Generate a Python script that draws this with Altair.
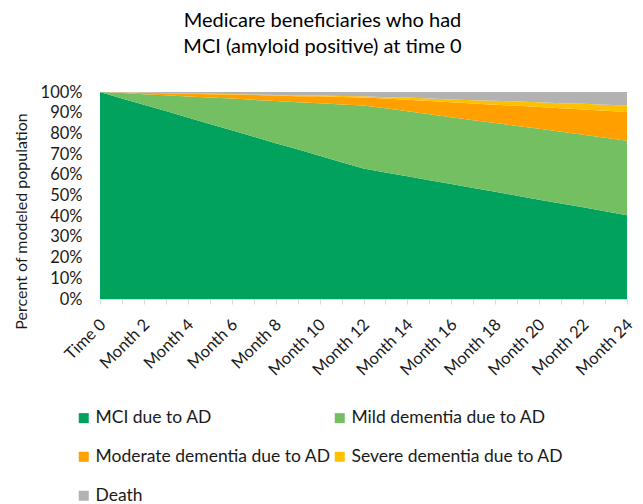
import altair as alt
import pandas as pd

months = list(range(25))
series = ["MCI due to AD", "Mild dementia due to AD", "Moderate dementia due to AD",
          "Severe dementia due to AD", "Death"]
colors = ["#00A25D", "#73BF62", "#FF9F00", "#FFC000", "#B2B2B2"]

mci = [100.0, 96.9, 93.8, 90.8, 87.7, 84.6, 81.5, 78.4, 75.3, 72.3, 69.2, 66.1, 63.0,
       61.1, 59.3, 57.4, 55.5, 53.6, 51.8, 49.9, 48.0, 46.1, 44.3, 42.4, 40.5]
mild = [0.0, 2.6, 5.1, 7.6, 10.1, 12.7, 15.3, 17.8, 20.4, 22.8, 25.4, 27.9, 30.5,
        31.0, 31.4, 31.9, 32.3, 32.8, 33.2, 33.7, 34.2, 34.7, 35.0, 35.5, 36.0]
moderate = [0.0, 0.3, 0.7, 1.0, 1.3, 1.6, 2.0, 2.3, 2.6, 2.9, 3.3, 3.6, 3.9,
            4.7, 5.6, 6.4, 7.2, 8.0, 8.9, 9.7, 10.5, 11.3, 12.2, 13.0, 13.8]
severe = [0.0, 0.0, 0.1, 0.1, 0.2, 0.2, 0.2, 0.3, 0.3, 0.4, 0.4, 0.5, 0.5,
          0.7, 1.0, 1.2, 1.4, 1.6, 1.9, 2.1, 2.3, 2.5, 2.8, 3.0, 3.2]
death = [0.0, 0.2, 0.3, 0.5, 0.7, 0.9, 1.0, 1.2, 1.4, 1.6, 1.7, 1.9, 2.1,
         2.5, 2.7, 3.1, 3.6, 4.0, 4.2, 4.6, 5.0, 5.4, 5.7, 6.1, 6.5]

values = [mci, mild, moderate, severe, death]
rows = []
for si, (name, vals) in enumerate(zip(series, values)):
    for m, v in zip(months, vals):
        rows.append({"month": m, "series": name, "value": v, "order": si})
df = pd.DataFrame(rows)

FONT = "Lato"
TXT = "#1a1a1a"

chart = alt.Chart(df).mark_area(opacity=1).encode(
    x=alt.X("month:O", sort=months, scale=alt.Scale(padding=0),
            axis=alt.Axis(title=None, labelAngle=-45, labelFontSize=16.5, labelFont=FONT,
                          labelColor=TXT, domainColor="#D9D9D9", tickColor="#D9D9D9",
                          tickSize=5, labelPadding=12, labelOffset=-3, grid=False,
                          labelExpr="datum.value == 0 ? 'Time 0' : (datum.value % 2 == 0 ? 'Month ' + datum.value : '')")),
    y=alt.Y("value:Q", stack="normalize",
            scale=alt.Scale(domain=[0, 1]),
            axis=alt.Axis(title="Percent of modeled population", format=".0%",
                          values=[i / 10 for i in range(11)], labelFontSize=16.5,
                          labelFont=FONT, labelColor=TXT, domain=False, ticks=False,
                          grid=False, labelPadding=18, titleFont=FONT, titleFontSize=16,
                          titleFontWeight="normal", titleColor=TXT, titleAngle=-90,
                          titleX=-79, titleY=129, titleAlign="center",
                          titleBaseline="middle")),
    color=alt.Color("series:N", sort=series,
                    scale=alt.Scale(domain=series, range=colors),
                    legend=alt.Legend(title=None, orient="none", legendX=-25, legendY=317,
                                      direction="horizontal",
                                      columns=2, symbolType="square", symbolSize=100,
                                      symbolStrokeWidth=0, labelFontSize=17.5,
                                      labelFont=FONT, labelColor=TXT, labelLimit=400,
                                      columnPadding=-3, rowPadding=20, labelOffset=3,
                                      padding=0)),
    order=alt.Order("order:Q"),
).properties(
    width=527, height=207,
    title=alt.TitleParams(["Medicare beneficiaries who had", "MCI (amyloid positive) at time 0"],
                          font=FONT, fontSize=20, fontWeight="normal", color="#000000",
                          anchor="middle", dx=-41, offset=27, lineHeight=26),
    padding={"left": 92, "top": 84, "right": 8, "bottom": 205},
    autosize=alt.AutoSizeParams(type="none"),
).configure_view(stroke=None)

chart.save("out.html", embed_options={"renderer": "svg", "actions": False})
